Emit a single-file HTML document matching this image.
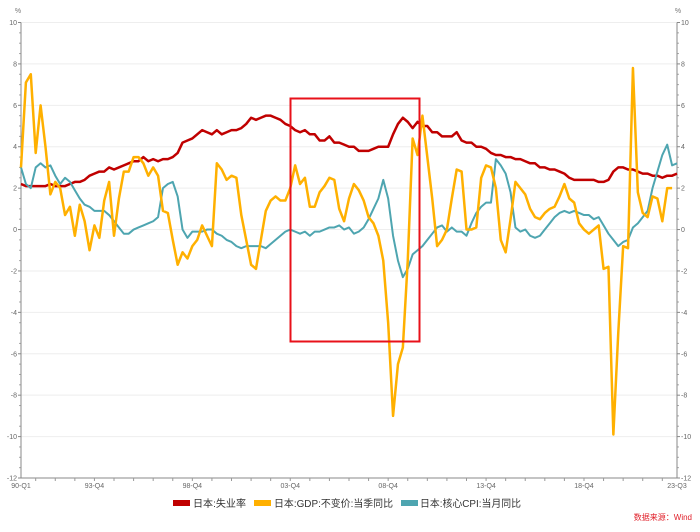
<!DOCTYPE html>
<html><head><meta charset="utf-8"><style>
html,body{margin:0;padding:0;background:#fff;}
svg{display:block;font-family:"Liberation Sans","Noto Sans CJK SC",sans-serif;}
</style></head><body>
<svg id="chart" width="700" height="532" viewBox="0 0 700 532">
<g id="grid"></g>
<g id="axes"></g>
<g id="series"></g>
<rect x="290.5" y="98.5" width="129" height="243" fill="none" stroke="#e8111a" stroke-width="2"/>
<g>
<g><rect x="173" y="500" width="17" height="6" fill="#c00000"/><text x="193" y="507" font-size="10" fill="#333" textLength="53" lengthAdjust="spacingAndGlyphs">日本:失业率</text></g>
<g><rect x="254" y="500" width="17" height="6" fill="#ffb000"/><text x="274" y="507" font-size="10" fill="#333" textLength="119" lengthAdjust="spacingAndGlyphs">日本:GDP:不变价:当季同比</text></g>
<g><rect x="401" y="500" width="17" height="6" fill="#4ea5b0"/><text x="420" y="507" font-size="10" fill="#333" textLength="101" lengthAdjust="spacingAndGlyphs">日本:核心CPI:当月同比</text></g>
</g>
<text x="692" y="520" font-size="8" fill="#e0202a" text-anchor="end">数据来源：Wind</text>
<text x="18" y="13" font-size="7" fill="#777" text-anchor="middle">%</text>
<text x="678" y="13" font-size="7" fill="#777" text-anchor="middle">%</text>
</svg>
<script>
const unemployment=[2.2,2.1,2.1,2.1, 2.1,2.1,2.2,2.1, 2.1,2.1,2.2,2.3, 2.3,2.4,2.6,2.7, 2.8,2.8,3.0,2.9, 3.0,3.1,3.2,3.3, 3.3,3.5,3.3,3.4, 3.3,3.4,3.4,3.5, 3.7,4.2,4.3,4.4, 4.6,4.8,4.7,4.6, 4.8,4.6,4.7,4.8, 4.8,4.9,5.1,5.4, 5.3,5.4,5.5,5.5, 5.4,5.3,5.1,5.0, 4.8,4.7,4.8,4.6, 4.6,4.3,4.3,4.5, 4.2,4.2,4.1,4.0, 4.0,3.8,3.8,3.8, 3.9,4.0,4.0,4.0, 4.6,5.1,5.4,5.2, 4.9,5.2,5.0,5.0, 4.7,4.7,4.5,4.5, 4.5,4.7,4.3,4.2, 4.2,4.0,4.0,3.9, 3.7,3.6,3.6,3.5, 3.5,3.4,3.4,3.3, 3.2,3.2,3.0,3.0, 2.9,2.9,2.8,2.7, 2.5,2.4,2.4,2.4, 2.4,2.4,2.3,2.3, 2.4,2.8,3.0,3.0, 2.9,2.9,2.8,2.7, 2.7,2.6,2.6,2.5, 2.6,2.6,2.7];
const gdp=[3.0,7.1,7.5,3.7,6.0,4.0,1.7,2.3,2.0,0.7,1.1,-0.3,1.2,0.4,-1.0,0.2,-0.4,1.4,2.3,-0.3,1.5,2.8,2.8,3.5,3.5,3.2,2.6,3.0,2.6,0.9,0.8,-0.5,-1.7,-1.1,-1.4,-0.8,-0.5,0.2,-0.3,-0.8,3.2,2.9,2.4,2.6,2.5,0.7,-0.5,-1.7,-1.9,-0.5,0.9,1.4,1.6,1.4,1.4,2.0,3.1,2.2,2.5,1.1,1.1,1.8,2.1,2.5,2.4,1.0,0.4,1.5,2.2,1.9,1.4,0.6,0.3,-0.3,-1.5,-4.5,-9.0,-6.5,-5.7,-1.5,4.4,3.6,5.5,3.5,1.5,-0.8,-0.5,0.0,1.5,2.9,2.8,0.0,0.0,0.1,2.5,3.1,3.0,2.0,-0.5,-1.1,0.5,2.3,2.0,1.7,1.0,0.6,0.5,0.8,1.0,1.1,1.6,2.2,1.5,1.3,0.3,0.0,-0.2,0.0,0.2,-1.9,-1.8,-9.9,-5.0,-0.8,-0.9,7.8,1.8,0.8,0.6,1.6,1.5,0.4,2.0,2.0];
const coreCpi=[3.0,2.2,2.0,3.0,3.2,3.0,3.1,2.6,2.2,2.5,2.3,1.9,1.5,1.2,1.1,0.9,0.9,0.9,0.7,0.4,0.1,-0.2,-0.2,0.0,0.1,0.2,0.3,0.4,0.6,2.0,2.2,2.3,1.6,0.0,-0.4,-0.1,-0.1,-0.1,0.0,0.0,-0.2,-0.3,-0.5,-0.6,-0.8,-0.9,-0.8,-0.8,-0.8,-0.8,-0.9,-0.7,-0.5,-0.3,-0.1,0.0,-0.1,-0.2,-0.1,-0.3,-0.1,-0.1,0.0,0.1,0.1,0.2,0.0,0.1,-0.2,-0.1,0.1,0.5,1.0,1.5,2.4,1.5,-0.3,-1.5,-2.3,-1.9,-1.2,-1.0,-0.8,-0.5,-0.2,0.1,0.2,-0.1,0.1,-0.1,-0.1,-0.3,0.3,0.8,1.1,1.3,1.3,3.4,3.1,2.7,1.8,0.1,-0.1,0.0,-0.3,-0.4,-0.3,0.0,0.3,0.6,0.8,0.9,0.8,0.9,0.8,0.7,0.7,0.5,0.6,0.2,-0.2,-0.5,-0.8,-0.6,-0.5,0.1,0.3,0.6,0.9,2.0,2.8,3.6,4.1,3.1,3.2];
const yTicks=[10,8,6,4,2,0,-2,-4,-6,-8,-10,-12];
const xTickLabels=["90-Q1","93-Q4","98-Q4","03-Q4","08-Q4","13-Q4","18-Q4","23-Q3"];
const xTickIndex=[0,15,35,55,75,95,115,134];

const X0=21,X1=677,Y10=22.5,Y12=478,N=134;
const xs=i=>X0+(X1-X0)*i/N;
const ys=v=>Y10+(10-v)*(Y12-Y10)/22;
const NS="http://www.w3.org/2000/svg";
function mk(tag,attrs,parent){const e=document.createElementNS(NS,tag);for(const k in attrs)e.setAttribute(k,attrs[k]);parent.appendChild(e);return e;}
const grid=document.getElementById('grid'),axes=document.getElementById('axes'),ser=document.getElementById('series');

yTicks.forEach(v=>{
  const y=ys(v);
  if(v>-12){const g=mk('line',{x1:X0,x2:X1,y1:y,y2:y,stroke:'#eeeeee','stroke-width':1},grid);
  
  }
  mk('line',{x1:X0-3,x2:X0,y1:y,y2:y,stroke:'#888'},axes);
  mk('line',{x1:X1,x2:X1+3,y1:y,y2:y,stroke:'#888'},axes);
  const t1=mk('text',{x:X0-4,y:y+2.5,'font-size':7,fill:'#666','text-anchor':'end'},axes);t1.textContent=v;
  
  
  const t2=mk('text',{x:X1+4,y:y+2.5,'font-size':7,fill:'#666'},axes);t2.textContent=v;
  
  
});
for(let v=-12;v<10;v+=0.5){if(v%2===0)continue;const y=ys(v);
  mk('line',{x1:X0-2,x2:X0,y1:y,y2:y,stroke:'#aaa'},axes);
  mk('line',{x1:X1,x2:X1+2,y1:y,y2:y,stroke:'#aaa'},axes);}
mk('line',{x1:X0,x2:X0,y1:Y10,y2:Y12,stroke:'#888'},axes);
mk('line',{x1:X1,x2:X1,y1:Y10,y2:Y12,stroke:'#888'},axes);
mk('line',{x1:X0,x2:X1,y1:Y12,y2:Y12,stroke:'#888'},axes);
for(let i=3;i<N;i+=4){mk('line',{x1:xs(i),x2:xs(i),y1:Y12,y2:Y12+3,stroke:'#999'},axes);}
xTickLabels.forEach((l,k)=>{
  const t=mk('text',{x:xs(xTickIndex[k]),y:Y12+10,'font-size':7,fill:'#666','text-anchor':'middle'},axes);
  t.textContent=l;
  
  
});

function line(arr,color,w,name){
  const d=arr.map((v,i)=>(i?'L':'M')+xs(i).toFixed(2)+','+ys(v).toFixed(2)).join('');
  const p=mk('path',{d:d,fill:'none',stroke:color,'stroke-width':w,'stroke-linejoin':'round'},ser);
  
  
}
line(unemployment,'#c00000',2.5,'unemployment-line');
line(coreCpi,'#4ea5b0',2,'core-cpi-line');
line(gdp,'#ffb000',2.5,'gdp-line');
</script>
</body></html>
